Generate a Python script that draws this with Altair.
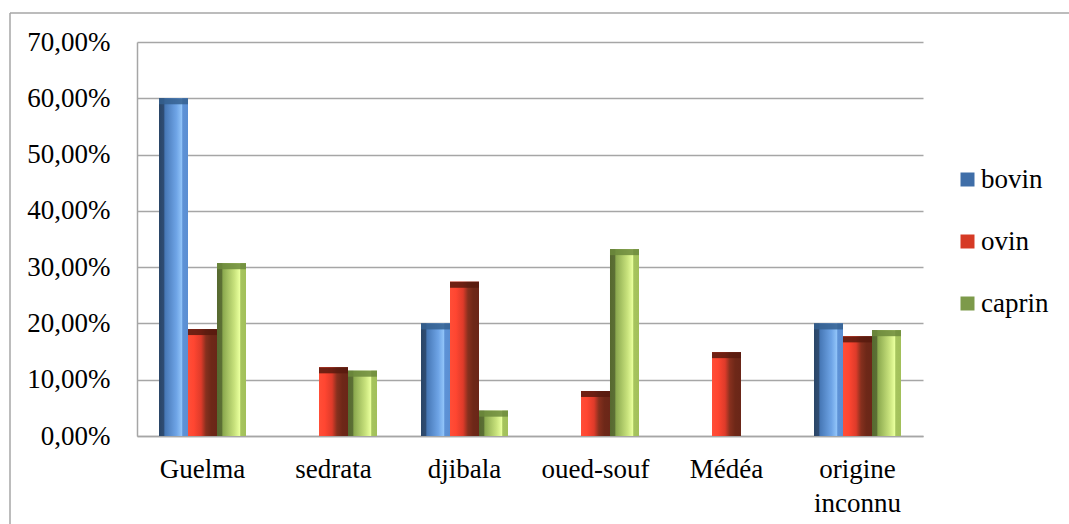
import altair as alt
import pandas as pd

# Share of samples by origin and species (%)
categories = ["Guelma", "sedrata", "djibala", "oued-souf", "Médéa", "origine inconnu"]
series = ["bovin", "ovin", "caprin"]
bovin = [60.0, 0.0, 20.0, 0.0, 0.0, 20.0]
ovin = [19.0, 12.2, 27.4, 8.0, 14.9, 17.7]
caprin = [30.7, 11.6, 4.5, 33.2, 0.0, 18.8]

values = {"bovin": bovin, "ovin": ovin, "caprin": caprin}
rows = [
    {"origine": c, "espece": s, "valeur": values[s][i]}
    for i, c in enumerate(categories)
    for s in series
]
df = pd.DataFrame(rows)
df = df[df["valeur"] > 0]

FONT = "Liberation Serif"
GRID = "#a6a6a6"

legend_colors = ["#3f6ea8", "#d63a25", "#7d9a4a"]

# Horizontal shading of each species' bars (bevelled look)
shades = {
    "bovin": [(0, "#2a4566"), (0.17, "#2f4d74"), (0.2, "#4677b5"), (0.6, "#6ea4e6"),
              (0.78, "#90c3f8"), (0.82, "#5e92d6"), (1, "#5a8ed2")],
    "ovin": [(0, "#ff4e37"), (0.2, "#ff4631"), (0.45, "#de3b2a"), (0.62, "#86301e"),
             (0.8, "#6e2818"), (1, "#6a2618")],
    "caprin": [(0, "#56692f"), (0.17, "#5c7035"), (0.2, "#8aa84e"), (0.6, "#c8e27c"),
               (0.78, "#e8ff9c"), (0.82, "#a6c45e"), (1, "#a2c05a")],
}
caps = {"bovin": "#35608f", "ovin": "#571a0e", "caprin": "#6c8a3c"}

x_enc = alt.X(
    "origine:N",
    sort=categories,
    scale=alt.Scale(domain=categories, paddingInner=0.336, paddingOuter=0.168),
    axis=alt.Axis(
        title=None,
        labelAngle=0,
        ticks=False,
        labelPadding=20,
        labelExpr="split(datum.label, ' ')",
        labelLineHeight=34,
        labelFont=FONT,
        labelFontSize=27,
        labelColor="black",
        domainColor=GRID,
        domainWidth=1.5,
        grid=False,
    ),
)
y_enc = alt.Y(
    "valeur:Q",
    scale=alt.Scale(domain=[0, 70], nice=False),
    axis=alt.Axis(
        title=None,
        values=[0, 10, 20, 30, 40, 50, 60, 70],
        labelExpr="replace(format(datum.value, '.2f'), '.', ',') + '%'",
        ticks=False,
        labelPadding=27,
        labelFont=FONT,
        labelFontSize=27,
        labelColor="black",
        grid=True,
        gridColor=GRID,
        gridWidth=1.5,
        domainColor=GRID,
        domainWidth=1.5,
    ),
)
off_enc = alt.XOffset("espece:N", scale=alt.Scale(domain=series), sort=series)

base = alt.Chart(df)

# Solid bars carry the legend; shaded copies are drawn over them
legend_bars = base.mark_bar().encode(
    x=x_enc,
    y=y_enc,
    xOffset=off_enc,
    color=alt.Color(
        "espece:N",
        scale=alt.Scale(domain=series, range=legend_colors),
        legend=alt.Legend(
            title=None,
            orient="none",
            legendX=817,
            legendY=124,
            symbolType="square",
            symbolSize=196,
            symbolStrokeWidth=0,
            labelFont=FONT,
            labelFontSize=27,
            labelColor="black",
            labelOffset=0,
            rowPadding=34,
            padding=0,
        ),
    ),
)

layers = [legend_bars]
for s in series:
    grad = alt.LinearGradient(
        gradient="linear",
        x1=0, x2=1, y1=0, y2=0,
        stops=[alt.GradientStop(offset=o, color=c) for o, c in shades[s]],
    )
    sub = base.transform_filter(alt.datum.espece == s)
    layers.append(sub.mark_bar(color=grad).encode(x=x_enc, y=y_enc, xOffset=off_enc))
    layers.append(
        sub.mark_tick(color=caps[s], thickness=6, size=29, yOffset=3, opacity=0.85).encode(
            x=x_enc, y=y_enc, xOffset=off_enc
        )
    )

# Outer frame (top and left edges)
frame_df = pd.DataFrame({"k": [0]})
frame_top = alt.Chart(frame_df).mark_rule(color=GRID, strokeWidth=1.5).encode(
    x=alt.value(-127), x2=alt.value(940), y=alt.value(-29)
)
frame_left = alt.Chart(frame_df).mark_rule(color=GRID, strokeWidth=1.5).encode(
    x=alt.value(-127), y=alt.value(-29), y2=alt.value(500)
)
layers += [frame_top, frame_left]

chart = (
    alt.layer(*layers)
    .properties(
        width=786,
        height=394,
        autosize=alt.AutoSizeParams(type="none"),
        padding={"left": 137, "top": 42, "right": 146, "bottom": 88},
        background="white",
    )
    .configure_view(stroke=None)
    .configure_axis(labelFont=FONT, labelFontSize=27, labelColor="black")
    .configure_legend(labelFont=FONT, labelFontSize=27, labelColor="black")
)

chart.save("out.html", embed_options={"renderer": "svg", "actions": False})
